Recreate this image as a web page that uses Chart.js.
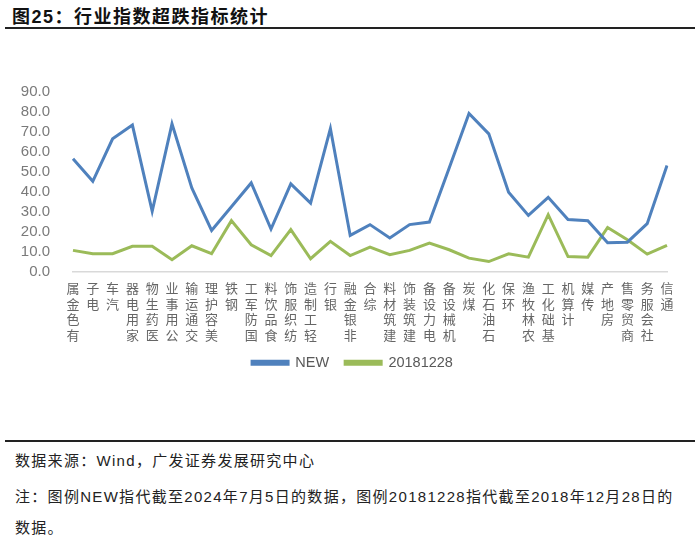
<!DOCTYPE html>
<html>
<head>
<meta charset="utf-8">
<script src="https://cdn.jsdelivr.net/npm/chart.js"></script>
<style>
  body { margin: 0; width: 700px; height: 540px; background: #fff; position: relative; overflow: hidden;
         font-family: "Liberation Sans", "Noto Sans CJK SC", sans-serif; }
  #title { position: absolute; left: 12px; top: 2px; font-size: 18px; font-weight: bold; color: #111; letter-spacing: 1.5px; }
  .rule { position: absolute; left: 5px; width: 690px; background: #222; }
  #wrap { position: absolute; left: 0; top: 68px; width: 700px; height: 329px; }
  .note { position: absolute; left: 15px; font-size: 15px; color: #222; letter-spacing: 1.3px; }
</style>
</head>
<body>
<div id="title">图25：行业指数超跌指标统计</div>
<div class="rule" style="top:27px;height:2px;"></div>
<div id="wrap"><canvas id="c"></canvas></div>
<div class="rule" style="top:440px;height:1.5px;"></div>
<div class="note" style="top:449px;">数据来源：Wind，广发证券发展研究中心</div>
<div class="note" style="top:485px;">注：图例NEW指代截至2024年7月5日的数据，图例20181228指代截至2018年12月28日的</div>
<div class="note" style="top:516px;">数据。</div>
<script>
const categories = ['有色金属', '电子', '汽车', '家用电器', '医药生物', '公用事业', '交通运输', '美容护理',
  '钢铁', '国防军工', '食品饮料', '纺织服饰', '轻工制造', '银行', '非银金融', '综合', '建筑材料',
  '建筑装饰', '电力设备', '机械设备', '煤炭', '石油石化', '环保', '农林牧渔', '基础化工', '计算机',
  '传媒', '房地产', '商贸零售', '社会服务', '通信'];
const newValues = [56.5, 45.2, 66.5, 73.4, 30.2, 74.0, 41.9, 20.6, 32.5, 44.4, 21.3, 43.9, 34.3, 71.7,
  18.1, 23.5, 16.8, 23.5, 24.8, 51.9, 79.2, 69.0, 39.7, 28.1, 37.2, 26.1, 25.5, 14.4, 14.7, 24.0, 53.1];
const oldValues = [10.6, 8.9, 8.9, 12.6, 12.6, 5.9, 12.9, 8.9, 25.5, 13.4, 8.0, 21.0, 6.4, 15.1,
  8.0, 12.2, 8.4, 10.6, 14.2, 10.9, 6.7, 5.0, 8.9, 7.2, 28.5, 7.5, 7.2, 22.1, 15.9, 8.7, 13.1];
const yTicks = [0, 10, 20, 30, 40, 50, 60, 70, 80, 90];

// labels read bottom-to-top, upright glyphs: last character sits nearest the axis
const stacked = categories.map(s => s.split('').reverse());

// nudge the legend to where the original sits
const legendShift = {
  id: 'legendShift',
  afterLayout(chart) {
    const l = chart.legend;
    l.left += 19; l.right += 19;
    l.top -= 12; l.bottom -= 12;
  }
};

new Chart(document.getElementById('c'), {
  type: 'line',
  data: {
    labels: stacked,
    datasets: [
      { label: 'NEW', data: newValues, borderColor: '#4f81bd', backgroundColor: '#4f81bd',
        borderWidth: 3, pointRadius: 0, tension: 0, fill: false },
      { label: '20181228', data: oldValues, borderColor: '#9bbb59', backgroundColor: '#9bbb59',
        borderWidth: 3, pointRadius: 0, tension: 0, fill: false }
    ]
  },
  plugins: [legendShift],
  options: {
    responsive: true,
    maintainAspectRatio: false,
    animation: false,
    layout: { padding: { top: 0, right: 33, bottom: 5, left: 0 } },
    scales: {
      x: {
        grid: { display: false },
        border: { display: true, color: '#d9d9d9', width: 1.5 },
        ticks: {
          autoSkip: false, maxRotation: 0, minRotation: 0, color: '#666', padding: 1,
          font: { family: '"Noto Sans CJK SC"', size: 13, lineHeight: 1.2 }
        },
        afterFit: s => { s.height = 80; }
      },
      y: {
        min: 0, max: 90,
        grid: { display: false },
        border: { display: false },
        afterBuildTicks: s => { s.ticks = yTicks.map(v => ({ value: v })); },
        ticks: {
          autoSkip: false, color: '#7a7a7a', padding: 15,
          font: { family: '"Liberation Sans"', size: 15 },
          callback: v => Number(v).toFixed(1)
        },
        afterFit: s => { s.width = 73; }
      }
    },
    plugins: {
      legend: {
        position: 'bottom',
        labels: {
          boxWidth: 36, boxHeight: 3, padding: 16, color: '#595959',
          font: { family: '"Liberation Sans"', size: 14.5 }
        }
      },
      tooltip: { enabled: false }
    }
  }
});
</script>
</body>
</html>
